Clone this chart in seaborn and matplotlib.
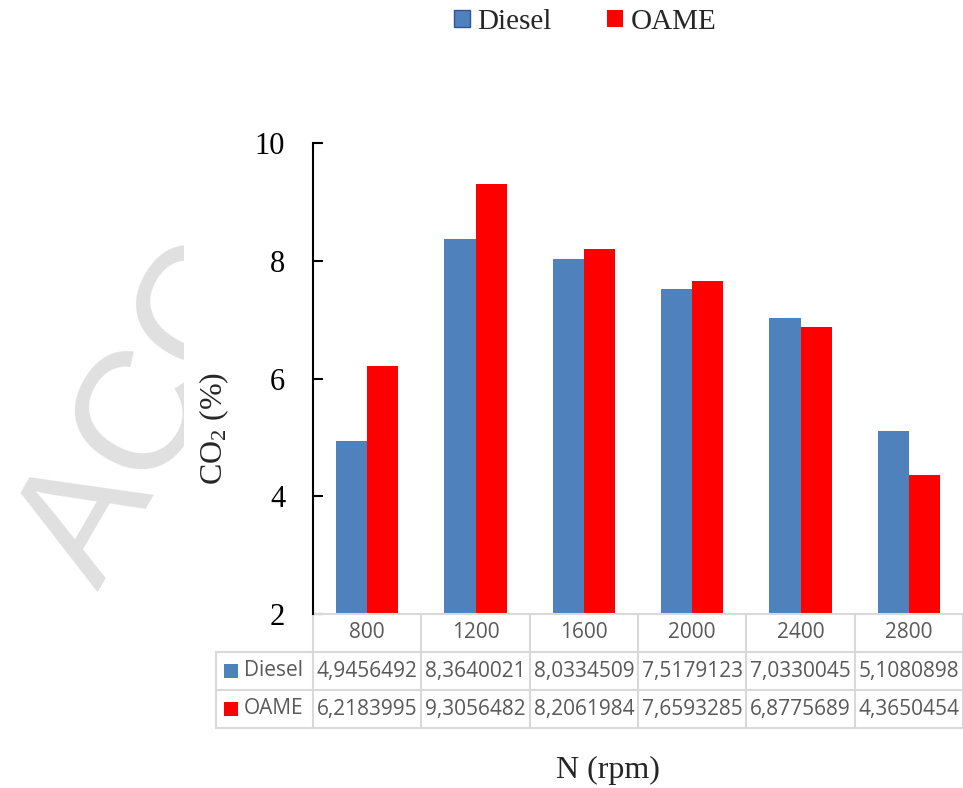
import matplotlib
matplotlib.use("Agg")
import matplotlib.pyplot as plt
import pandas as pd
import seaborn as sns
from matplotlib.patches import Rectangle, Patch
from matplotlib.transforms import blended_transform_factory

# Engine speed categories and CO2 readings (%)
speeds = ["800", "1200", "1600", "2000", "2400", "2800"]
diesel = [4.9456492, 8.3640021, 8.0334509, 7.5179123, 7.0330045, 5.1080898]
oame = [6.2183995, 9.3056482, 8.2061984, 7.6593285, 6.8775689, 4.3650454]
fuels = ["Diesel", "OAME"]
colors = {"Diesel": "#4f81bd", "OAME": "#ff0000"}

df = pd.DataFrame({
    "N": speeds * 2,
    "CO2": diesel + oame,
    "fuel": ["Diesel"] * len(speeds) + ["OAME"] * len(speeds),
})

sns.set_style("white")
plt.rcParams["font.family"] = ["Liberation Serif", "DejaVu Serif"]
plt.rcParams["mathtext.default"] = "regular"

W, H = 963, 788
fig = plt.figure(figsize=(W / 100, H / 100), dpi=100)
fig.patch.set_facecolor("white")


def fx(px):
    return px / W


def fy(py):
    return 1 - py / H


# faint watermark, partly hidden behind the chart panel
fig.text(fx(98), fy(592), "ACC", rotation=60,
         rotation_mode="anchor", ha="left", va="baseline", fontsize=122,
         family="Liberation Sans", color="#e0e0e0", zorder=0)
fig.patches.append(Rectangle((fx(184), 0), 1 - fx(184), fy(50),
                             transform=fig.transFigure, facecolor="white",
                             edgecolor="none", zorder=1))

ax_top, ax_bot, ax_left, ax_right = 143, 614, 313, 963
ax = fig.add_axes([fx(ax_left), fy(ax_bot), fx(ax_right) - fx(ax_left),
                   (ax_bot - ax_top) / H])
ax.set_zorder(3)

sns.barplot(data=df, x="N", y="CO2", hue="fuel", hue_order=fuels,
            palette=colors, width=0.573, linewidth=0, saturation=1,
            legend=False, ax=ax)

ax.set_ylim(2, 10)
ax.set_xlim(-0.5, len(speeds) - 0.5)
ax.set_yticks([2, 4, 6, 8, 10])
ax.set_xticks([])
ax.set_xlabel("")
ax.set_ylabel("")
for s in ["top", "right", "bottom"]:
    ax.spines[s].set_visible(False)
ax.spines["left"].set_color("black")
ax.spines["left"].set_linewidth(1.5)
ax.tick_params(axis="y", direction="in", length=7, width=1.5, pad=20,
               labelsize=22, colors="black", left=True)

# data table under the plot
ah = ax_bot - ax_top
aw = ax_right - ax_left


def ay(py):
    return (ax_bot - py) / ah


def axf(px):
    return (px - ax_left) / aw


tr = blended_transform_factory(ax.transData, ax.transAxes)
grid = "#d9d9d9"
lw = 1.5
row_edges = [614, 652, 690, 728]
left_edge = 216
n = len(speeds)

ax.plot([0, 1], [ay(row_edges[0])] * 2, transform=ax.transAxes,
        color=grid, lw=lw, clip_on=False)
for py in row_edges[1:]:
    ax.plot([axf(left_edge), 1], [ay(py)] * 2, transform=ax.transAxes,
            color=grid, lw=lw, clip_on=False)
for i in range(n + 1):
    ax.plot([i - 0.5, i - 0.5], [ay(row_edges[0]), ay(row_edges[-1])],
            transform=tr, color=grid, lw=lw, clip_on=False)
ax.plot([axf(left_edge)] * 2, [ay(row_edges[1]), ay(row_edges[-1])],
        transform=ax.transAxes, color=grid, lw=lw, clip_on=False)

tstyle = dict(family="Open Sans", fontsize=15, color="#595959",
              va="center", clip_on=False)
for i, sp in enumerate(speeds):
    ax.text(i, ay(633), sp, transform=tr, ha="center", **tstyle)

for r, (name, vals) in enumerate(zip(fuels, [diesel, oame])):
    yc = (row_edges[r + 1] + row_edges[r + 2]) / 2
    ax.add_patch(Rectangle((axf(224), ay(yc + 7)), 14 / aw, 14 / ah,
                           transform=ax.transAxes, facecolor=colors[name],
                           edgecolor="none", clip_on=False))
    ax.text(axf(244), ay(yc), name, transform=ax.transAxes, ha="left",
            **tstyle)
    for i, v in enumerate(vals):
        ax.text(i, ay(yc), f"{v:.7f}".replace(".", ","), transform=tr,
                ha="center", **tstyle)

fig.text(fx(214), fy(428), "CO$_2$ (%)", rotation=90, ha="center",
         va="center", fontsize=23, zorder=4)
fig.text(fx(608), fy(770), "N (rpm)", ha="center", va="center",
         fontsize=23, zorder=4)

handles = [Patch(facecolor=colors["Diesel"], edgecolor="#2f5597", lw=1),
           Patch(facecolor=colors["OAME"], edgecolor="none")]
leg = fig.legend(handles, fuels, loc="center", bbox_to_anchor=(fx(585), fy(22)),
                 ncol=2, frameon=False, fontsize=21, handlelength=0.55,
                 handleheight=0.55, handletextpad=0.25, columnspacing=1.9)
leg.set_zorder(5)

fig.savefig("out.png", dpi=100, facecolor="white")
